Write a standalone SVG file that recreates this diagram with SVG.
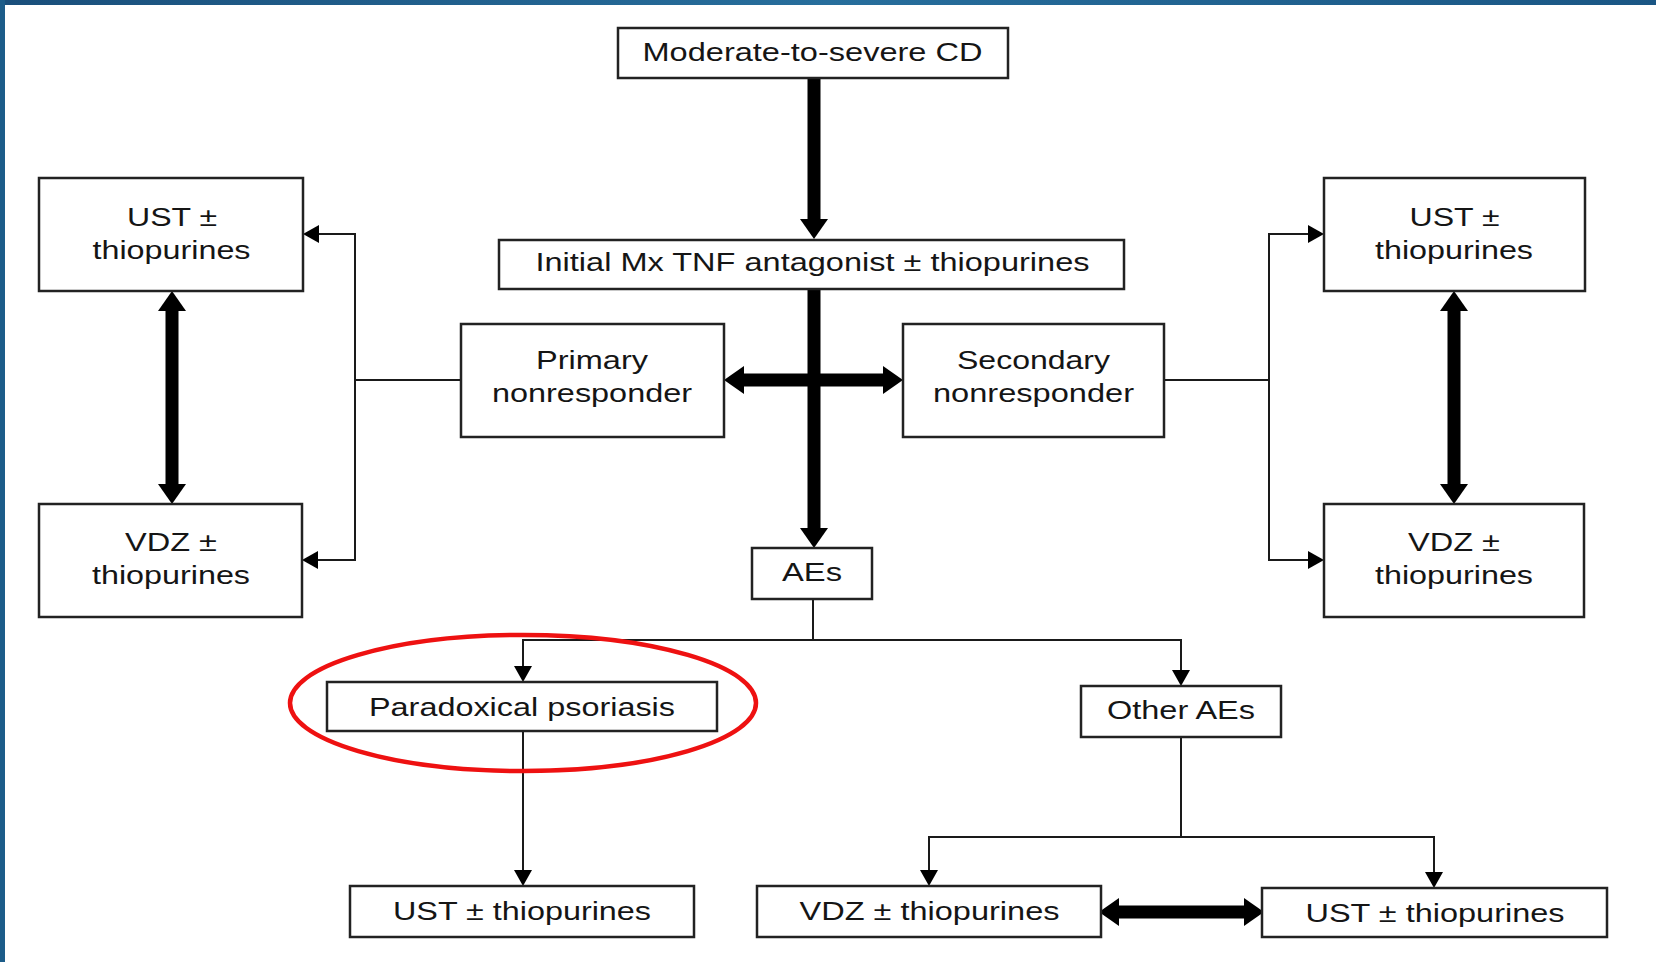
<svg xmlns="http://www.w3.org/2000/svg" width="1656" height="962" viewBox="0 0 1656 962">
<style>
.box{fill:#fff;stroke:#222;stroke-width:2.5}
.t{font-family:"Liberation Sans",Arial,sans-serif;font-size:26.5px;fill:#151515;text-anchor:middle}
.thin{fill:none;stroke:#1a1a1a;stroke-width:2}
.thick{fill:none;stroke:#000;stroke-width:13}
.thinA{marker-end:url(#ah);marker-start:url(#ah)}
</style>
<defs>
<linearGradient id="bar" x1="0" y1="0" x2="1" y2="0">
<stop offset="0" stop-color="#1a4f7b"/>
<stop offset="0.5" stop-color="#276e9c"/>
<stop offset="1" stop-color="#1a5684"/>
</linearGradient>
<marker id="ah" markerUnits="userSpaceOnUse" markerWidth="16" markerHeight="18" refX="0" refY="9" orient="auto-start-reverse" viewBox="0 0 16 18">
<path d="M0,0 L16,9 L0,18 z" fill="#000"/>
</marker>
<marker id="AH" markerUnits="userSpaceOnUse" markerWidth="20" markerHeight="28" refX="0" refY="14" orient="auto-start-reverse" viewBox="0 0 20 28">
<path d="M0,0 L20,14 L0,28 z" fill="#000"/>
</marker>
</defs>
<rect x="0" y="0" width="1656" height="962" fill="#fff"/>
<rect x="0" y="0" width="1656" height="5" fill="url(#bar)"/>
<rect x="0" y="0" width="5" height="962" fill="#1c5c89"/>

<g id="connectors">
<path class="thick" d="M814,78 V219" marker-end="url(#AH)"/>
<path class="thick" d="M814,289 V528" marker-end="url(#AH)"/>
<path class="thick" d="M744,380 H883" marker-start="url(#AH)" marker-end="url(#AH)"/>
<path class="thick" d="M172,311 V484" marker-start="url(#AH)" marker-end="url(#AH)"/>
<path class="thick" d="M1454,311 V484" marker-start="url(#AH)" marker-end="url(#AH)"/>
<path class="thick" d="M1119,912 H1244" marker-start="url(#AH)" marker-end="url(#AH)"/>
<path class="thin" d="M461,380 H355"/>
<path class="thin thinA" d="M319,234 H355 V560 H318"/>
<path class="thin" d="M1164,380 H1269"/>
<path class="thin thinA" d="M1308,234 H1269 V560 H1308"/>
<path class="thin" d="M813,599 V640"/>
<path class="thin thinA" d="M523,666 V640 H1181 V670"/>
<path class="thin" d="M523,731 V870" marker-end="url(#ah)"/>
<path class="thin" d="M1181,737 V837"/>
<path class="thin thinA" d="M929,870 V837 H1434 V872"/>
</g>

<g id="n-moderate"><rect class="box" x="618" y="28" width="390" height="50"/><text class="t" x="812.5" y="61" textLength="340" lengthAdjust="spacingAndGlyphs">Moderate-to-severe CD</text></g>
<g id="n-initial"><rect class="box" x="499" y="240" width="625" height="49"/><text class="t" x="812.5" y="271" textLength="554" lengthAdjust="spacingAndGlyphs">Initial Mx TNF antagonist ± thiopurines</text></g>
<g id="n-primary"><rect class="box" x="461" y="324" width="263" height="113"/><text class="t" x="592" y="369" textLength="112" lengthAdjust="spacingAndGlyphs">Primary</text><text class="t" x="592" y="402" textLength="200" lengthAdjust="spacingAndGlyphs">nonresponder</text></g>
<g id="n-secondary"><rect class="box" x="903" y="324" width="261" height="113"/><text class="t" x="1033.5" y="369" textLength="153" lengthAdjust="spacingAndGlyphs">Secondary</text><text class="t" x="1033.5" y="402" textLength="201" lengthAdjust="spacingAndGlyphs">nonresponder</text></g>
<g id="n-ust-left"><rect class="box" x="39" y="178" width="264" height="113"/><text class="t" x="172" y="226" textLength="90" lengthAdjust="spacingAndGlyphs">UST ±</text><text class="t" x="171.5" y="258.5" textLength="158" lengthAdjust="spacingAndGlyphs">thiopurines</text></g>
<g id="n-vdz-left"><rect class="box" x="39" y="504" width="263" height="113"/><text class="t" x="171" y="551" textLength="92" lengthAdjust="spacingAndGlyphs">VDZ ±</text><text class="t" x="171" y="584" textLength="158" lengthAdjust="spacingAndGlyphs">thiopurines</text></g>
<g id="n-ust-right"><rect class="box" x="1324" y="178" width="261" height="113"/><text class="t" x="1454.5" y="226" textLength="90" lengthAdjust="spacingAndGlyphs">UST ±</text><text class="t" x="1454" y="258.5" textLength="158" lengthAdjust="spacingAndGlyphs">thiopurines</text></g>
<g id="n-vdz-right"><rect class="box" x="1324" y="504" width="260" height="113"/><text class="t" x="1454" y="551" textLength="92" lengthAdjust="spacingAndGlyphs">VDZ ±</text><text class="t" x="1454" y="584" textLength="158" lengthAdjust="spacingAndGlyphs">thiopurines</text></g>
<g id="n-aes"><rect class="box" x="752" y="548" width="120" height="51"/><text class="t" x="812" y="581" textLength="60" lengthAdjust="spacingAndGlyphs">AEs</text></g>
<g id="n-paradoxical"><rect class="box" x="327" y="682" width="390" height="49"/><text class="t" x="522" y="716" textLength="306" lengthAdjust="spacingAndGlyphs">Paradoxical psoriasis</text><ellipse cx="523" cy="703" rx="233" ry="68" fill="none" stroke="#ee1111" stroke-width="4.5"/></g>
<g id="n-other"><rect class="box" x="1081" y="686" width="200" height="51"/><text class="t" x="1181" y="718.5" textLength="148" lengthAdjust="spacingAndGlyphs">Other AEs</text></g>
<g id="n-ust-bottom-left"><rect class="box" x="350" y="886" width="344" height="51"/><text class="t" x="522" y="919.5" textLength="258" lengthAdjust="spacingAndGlyphs">UST ± thiopurines</text></g>
<g id="n-vdz-bottom"><rect class="box" x="757" y="886" width="344" height="51"/><text class="t" x="929.5" y="919.5" textLength="260" lengthAdjust="spacingAndGlyphs">VDZ ± thiopurines</text></g>
<g id="n-ust-bottom-right"><rect class="box" x="1262" y="888" width="345" height="49"/><text class="t" x="1435" y="922" textLength="259" lengthAdjust="spacingAndGlyphs">UST ± thiopurines</text></g>
</svg>
